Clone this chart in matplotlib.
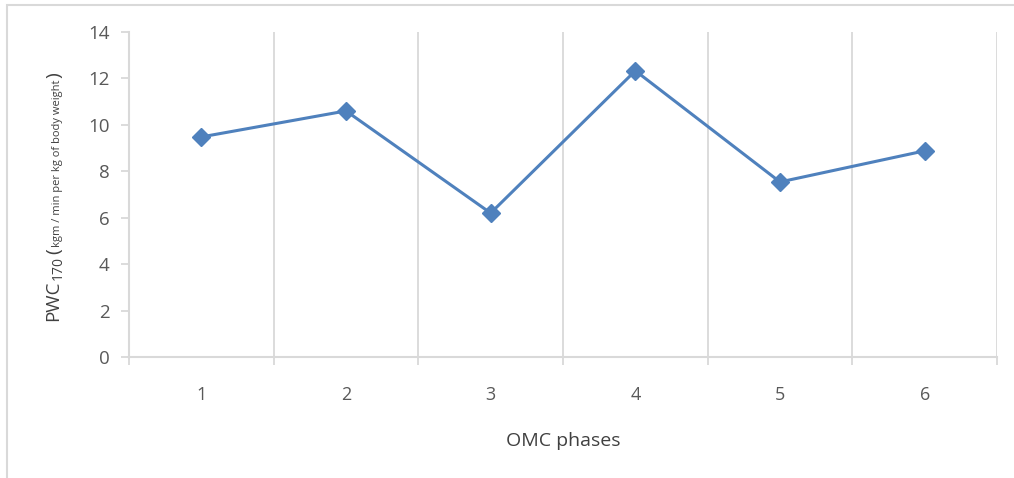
import matplotlib
matplotlib.use("Agg")
import matplotlib.pyplot as plt
from matplotlib.patches import Rectangle

phases = [1, 2, 3, 4, 5, 6]
pwc170 = [9.48, 10.6, 6.2, 12.33, 7.54, 8.88]
y_ticks = [0, 2, 4, 6, 8, 10, 12, 14]

LINE = "#4F81BD"
GRID = "#D9D9D9"
TXT = "#595959"
FONT = ["Open Sans", "DejaVu Sans"]
NARROW = ["Liberation Sans Narrow", "Open Sans", "DejaVu Sans"]

W, H = 1014, 478
fig = plt.figure(figsize=(W / 100, H / 100), dpi=100)
fig.patch.set_facecolor("white")

# outer chart-area border
fig.patches.append(Rectangle((7 / W, -0.1), 1.2, (H - 5) / H + 0.1,
                             transform=fig.transFigure, fill=False,
                             edgecolor=GRID, linewidth=1.5))

ax = fig.add_axes([129 / W, 1 - 357 / H, (997 - 129) / W, (357 - 32) / H])
ax.plot(phases, pwc170, color=LINE, linewidth=2.2, marker="D",
        markersize=9.5, markerfacecolor=LINE, markeredgecolor=LINE,
        zorder=3, clip_on=False)

ax.set_xlim(0.5, 6.5)
ax.set_ylim(0, 14)
ax.set_yticks(y_ticks)
ax.set_xticks(phases)
ax.set_xticks([p - 0.5 for p in phases] + [6.5], minor=True)

for s in ["top", "right"]:
    ax.spines[s].set_visible(False)
for s in ["left", "bottom"]:
    ax.spines[s].set_color(GRID)
    ax.spines[s].set_linewidth(1.5)

ax.grid(axis="x", which="minor", color=GRID, linewidth=1.3)
ax.tick_params(axis="y", which="major", length=6, width=1.3, color=GRID,
               labelcolor=TXT, labelsize=13.5, pad=8)
ax.tick_params(axis="x", which="major", length=0, labelcolor=TXT,
               labelsize=13, pad=21)
ax.tick_params(axis="x", which="minor", length=6, width=1.3, color=GRID)
for lab in ax.get_yticklabels():
    lab.set_family(FONT)
for lab in ax.get_xticklabels():
    lab.set_family(NARROW)

fig.text((129 + 997) / 2 / W, 1 - 441 / H, "OMC phases", ha="center",
         va="center", color="#404040", fontsize=14, family=NARROW)

# rotated y-axis title built from pieces of differing size
fig.canvas.draw()
renderer = fig.canvas.get_renderer()
pieces = [
    ("PWC", 13.5, 0, 0),
    ("170", 10, 5, 1),
    ("(", 14, 1, 2),
    ("kgm / min per kg of body weight", 8, 5, 1),
    (")", 14, 1, 1),
]
y_px = 321
x_base = 53
for text, size, dx, gap in pieces:
    y_px -= gap
    t = fig.text((x_base + dx) / W, 1 - y_px / H, text, rotation=90,
                 ha="center", va="bottom", fontsize=size, color="#404040",
                 family=FONT)
    bb = t.get_window_extent(renderer)
    y_px -= bb.height

fig.savefig("out.png", dpi=100)
